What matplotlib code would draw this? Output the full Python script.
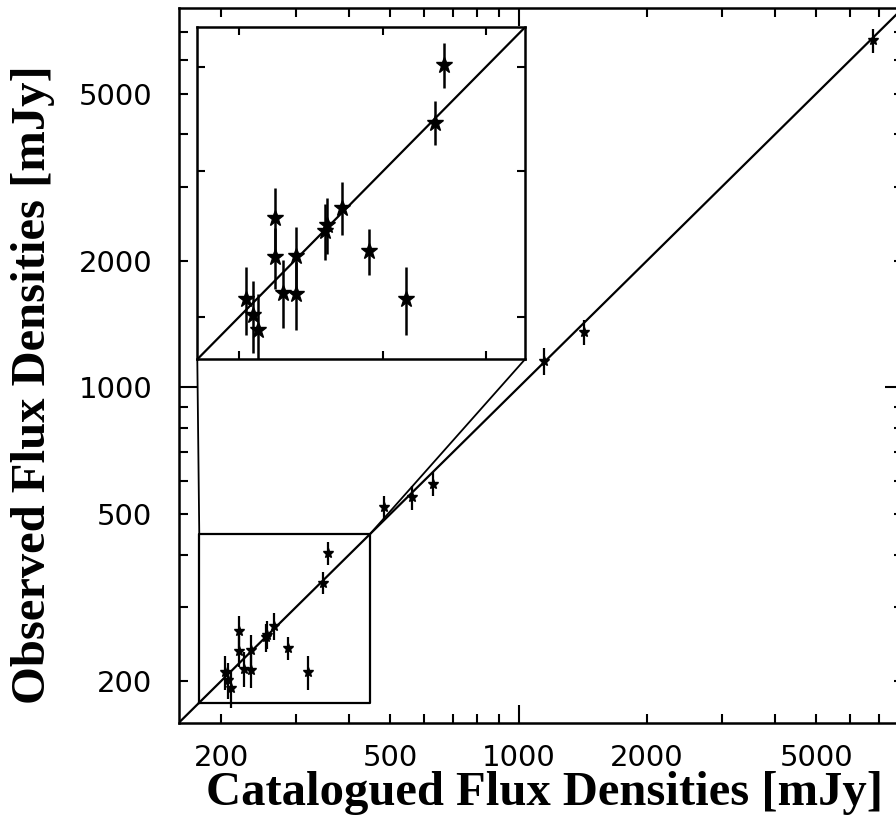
import matplotlib.pyplot as plt
import numpy as np
from matplotlib.patches import ConnectionPatch
from matplotlib.ticker import FixedLocator, FuncFormatter, NullFormatter

# catalogued vs observed flux densities (mJy)
cat_flux = [204, 208, 211, 221, 221, 226, 235, 235, 255, 256, 267, 288, 320,
            347, 356, 484, 563, 628, 1147, 1423, 6800]
obs_flux = [210, 201, 193, 263, 236, 214, 237, 213, 254, 258, 271, 240, 210,
            343, 403, 519, 547, 590, 1153, 1354, 6700]
obs_err = [20, 20, 20, 23, 20, 20, 20, 20, 20, 20, 20, 15, 20,
           21, 25, 33, 35, 38, 85, 90, 440]

main_lim = (159, 7990)
zoom_lim = (177.8, 447)
labelled = [200, 500, 1000, 2000, 5000]

W, H = 896, 830
fig = plt.figure(figsize=(W / 100, H / 100), dpi=100)

# main axes runs off the right edge like the reference crop
ax = fig.add_axes([178.6 / W, 107 / H, 724.4 / W, 715 / H])
ax.set_xscale('log')
ax.set_yscale('log')
ax.set_xlim(main_lim)
ax.set_ylim(main_lim)

ax.plot(main_lim, main_lim, color='black', lw=1.6)
ax.errorbar(cat_flux, obs_flux, yerr=obs_err, fmt='*', color='black',
            ms=7, elinewidth=1.6, capsize=0)

# zoom box
z0, z1 = zoom_lim
ax.plot([z0, z1, z1, z0, z0], [z0, z0, z1, z1, z0], color='black', lw=1.6)

minors = [v * d for d in (100, 1000) for v in range(2, 10)]


def fmt(v, pos):
    return '%d' % round(v) if round(v) in labelled else ''


for axis in (ax.xaxis, ax.yaxis):
    axis.set_major_locator(FixedLocator([1000]))
    axis.set_minor_locator(FixedLocator(minors))
    axis.set_major_formatter(FuncFormatter(fmt))
    axis.set_minor_formatter(FuncFormatter(fmt))

ax.tick_params(which='both', direction='in', top=True, right=True, width=1.5,
               labelsize=21)
ax.tick_params(which='major', length=13)
ax.tick_params(which='minor', length=6.5)
ax.tick_params(axis='x', which='both', pad=15)
ax.tick_params(axis='y', which='both', pad=19)
for s in ax.spines.values():
    s.set_linewidth(1.8)

# inset
ins = fig.add_axes([197.3 / W, (H - 359.3) / H, 327.7 / W, 332 / H])
ins.set_xscale('log')
ins.set_yscale('log')
ins.set_xlim(zoom_lim)
ins.set_ylim(zoom_lim)
ins.plot(zoom_lim, zoom_lim, color='black', lw=1.6)
ins.errorbar(cat_flux, obs_flux, yerr=obs_err, fmt='*', color='black',
             ms=12, elinewidth=1.8, capsize=0)
for axis in (ins.xaxis, ins.yaxis):
    axis.set_major_locator(FixedLocator([]))
    axis.set_minor_locator(FixedLocator([200, 300, 400]))
    axis.set_minor_formatter(NullFormatter())
ins.tick_params(which='both', direction='in', top=True, right=True, width=1.5,
                length=6)
for s in ins.spines.values():
    s.set_linewidth(1.8)

for xa, xb in ((0, z0), (1, z1)):
    con = ConnectionPatch(xyA=(xa, 0), coordsA=ins.transAxes,
                          xyB=(xb, z1), coordsB=ax.transData,
                          color='black', lw=1.3)
    fig.add_artist(con)

lab = dict(family='Liberation Serif', weight='bold', size=35,
           ha='center', va='center')
fig.text(544 / W, 1 - 793 / H, 'Catalogued Flux Densities [mJy]', **lab)
fig.text(33 / W, 1 - 385 / H, 'Observed Flux Densities [mJy]',
         rotation=90, **lab)

fig.savefig('out.png', dpi=100)
